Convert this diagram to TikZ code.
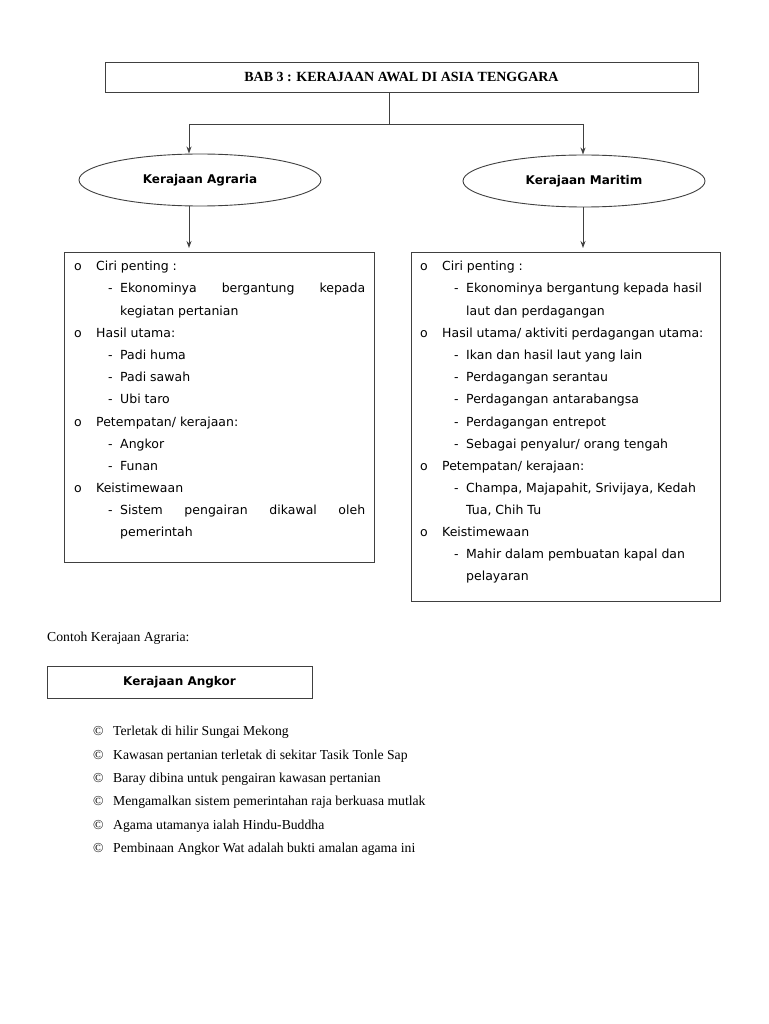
\documentclass[tikz,border=0pt]{standalone}
\usepackage{fontspec}
\setmainfont{DejaVu Sans}
\newfontfamily\tnr{Liberation Serif}
\usetikzlibrary{arrows.meta,shapes.geometric}
\begin{document}
\begin{tikzpicture}[x=1pt,y=-1pt,
 line/.style={draw=black!75,line width=0.9pt},
 arr/.style={line,-{Stealth[length=7pt,width=5pt]}},
 txt/.style={anchor=west,inner sep=0pt,text height=8pt,text depth=2pt,font=\fontsize{12.5}{14}\selectfont},
 btxt/.style={anchor=west,inner sep=0pt,text height=8pt,text depth=2pt,font=\tnr\fontsize{13.7}{15}\selectfont},
 hdr/.style={line,inner sep=0pt,font=\bfseries\fontsize{12}{14}\selectfont},
]
\useasboundingbox[fill=white] (0,0) rectangle (768,1024);
% title
\node[line,minimum width=593pt,minimum height=30pt,inner sep=0pt,font=\tnr\bfseries\fontsize{14}{16}\selectfont] (title) at (401.5,77) {BAB 3 : KERAJAAN AWAL DI ASIA TENGGARA};
% ellipses
\node[hdr,ellipse,minimum width=242pt,minimum height=52pt] (agr) at (200,180) {\raisebox{1.5pt}{Kerajaan Agraria}};
\node[hdr,ellipse,minimum width=242pt,minimum height=52pt] (mar) at (584,181) {\raisebox{1.5pt}{Kerajaan Maritim}};
% boxes
\node[line,anchor=north west,minimum width=310pt,minimum height=310pt,inner sep=0pt] (lbox) at (64,252) {};
\node[line,anchor=north west,minimum width=309pt,minimum height=349pt,inner sep=0pt] (rbox) at (411,252) {};
% connectors
\coordinate (j) at (389,124);
\coordinate (jl) at (189,124);
\coordinate (jr) at (583,124);
\draw[line] (title.south -| j) -- (j);
\draw[line] (jl) -- (jr);
\draw[arr] (jl) -- (jl |- agr.north);
\draw[arr] (jr) -- (jr |- mar.north);
\draw[arr,shorten >=4pt] (agr.south -| jl) -- (lbox.north -| jl);
\draw[arr,shorten >=4pt] (mar.south -| jr) -- (rbox.north -| jr);
\begin{scope}[shift={(0,3)}]
% left box text
\node[txt] (lb1) at (74,264) {o};
\node[txt] (lt1) at (96,264) {Ciri penting :};
\node[txt] (ld1) at (108,286) {-};
\node[txt] (ls1) at (120,286) {\makebox[245pt][s]{Ekonominya bergantung kepada}};
\node[txt] (ls2) at (120,309) {kegiatan pertanian};
\node[txt] (lb2) at (74,331) {o};
\node[txt] (lt2) at (96,331) {Hasil utama:};
\node[txt] (ld3) at (108,353) {-};
\node[txt] (ls3) at (120,353) {Padi huma};
\node[txt] (ld4) at (108,375) {-};
\node[txt] (ls4) at (120,375) {Padi sawah};
\node[txt] (ld5) at (108,397) {-};
\node[txt] (ls5) at (120,397) {Ubi taro};
\node[txt] (lb3) at (74,420) {o};
\node[txt] (lt3) at (96,420) {Petempatan/ kerajaan:};
\node[txt] (ld6) at (108,442) {-};
\node[txt] (ls6) at (120,442) {Angkor};
\node[txt] (ld7) at (108,464) {-};
\node[txt] (ls7) at (120,464) {Funan};
\node[txt] (lb4) at (74,486) {o};
\node[txt] (lt4) at (96,486) {Keistimewaan};
\node[txt] (ld8) at (108,508) {-};
\node[txt] (ls8) at (120,508) {\makebox[245pt][s]{Sistem pengairan dikawal oleh}};
\node[txt] (ls9) at (120,530) {pemerintah};
% right box text
\node[txt] (rb1) at (420,264) {o};
\node[txt] (rt1) at (442,264) {Ciri penting :};
\node[txt] (rd1) at (454,286) {-};
\node[txt] (rs1) at (466,286) {Ekonominya bergantung kepada hasil};
\node[txt] (rs2) at (466,309) {laut dan perdagangan};
\node[txt] (rb2) at (420,331) {o};
\node[txt] (rt2) at (442,331) {Hasil utama/ aktiviti perdagangan utama:};
\node[txt] (rd3) at (454,353) {-};
\node[txt] (rs3) at (466,353) {Ikan dan hasil laut yang lain};
\node[txt] (rd4) at (454,375) {-};
\node[txt] (rs4) at (466,375) {Perdagangan serantau};
\node[txt] (rd5) at (454,397) {-};
\node[txt] (rs5) at (466,397) {Perdagangan antarabangsa};
\node[txt] (rd6) at (454,420) {-};
\node[txt] (rs6) at (466,420) {Perdagangan entrepot};
\node[txt] (rd7) at (454,442) {-};
\node[txt] (rs7) at (466,442) {Sebagai penyalur/ orang tengah};
\node[txt] (rb3) at (420,464) {o};
\node[txt] (rt3) at (442,464) {Petempatan/ kerajaan:};
\node[txt] (rd8) at (454,486) {-};
\node[txt] (rs8) at (466,486) {Champa, Majapahit, Srivijaya, Kedah};
\node[txt] (rs9) at (466,508) {Tua, Chih Tu};
\node[txt] (rb4) at (420,530) {o};
\node[txt] (rt4) at (442,530) {Keistimewaan};
\node[txt] (rd10) at (454,552) {-};
\node[txt] (rs10) at (466,552) {Mahir dalam pembuatan kapal dan};
\node[txt] (rs11) at (466,574) {pelayaran};
\end{scope}
% bottom part
\node[btxt] (contoh) at (47,638) {Contoh Kerajaan Agraria:};
\node[hdr,minimum width=265pt,minimum height=32pt] (ang) at (179.5,682) {\raisebox{1.5pt}{Kerajaan Angkor}};
\node[btxt] (c1) at (93,732) {©};
\node[btxt] (p1) at (113,732) {Terletak di hilir Sungai Mekong};
\node[btxt] (c2) at (93,756) {©};
\node[btxt] (p2) at (113,756) {Kawasan pertanian terletak di sekitar Tasik Tonle Sap};
\node[btxt] (c3) at (93,779) {©};
\node[btxt] (p3) at (113,779) {Baray dibina untuk pengairan kawasan pertanian};
\node[btxt] (c4) at (93,802) {©};
\node[btxt] (p4) at (113,802) {Mengamalkan sistem pemerintahan raja berkuasa mutlak};
\node[btxt] (c5) at (93,826) {©};
\node[btxt] (p5) at (113,826) {Agama utamanya ialah Hindu-Buddha};
\node[btxt] (c6) at (93,849) {©};
\node[btxt] (p6) at (113,849) {Pembinaan Angkor Wat adalah bukti amalan agama ini};
\end{tikzpicture}
\end{document}
